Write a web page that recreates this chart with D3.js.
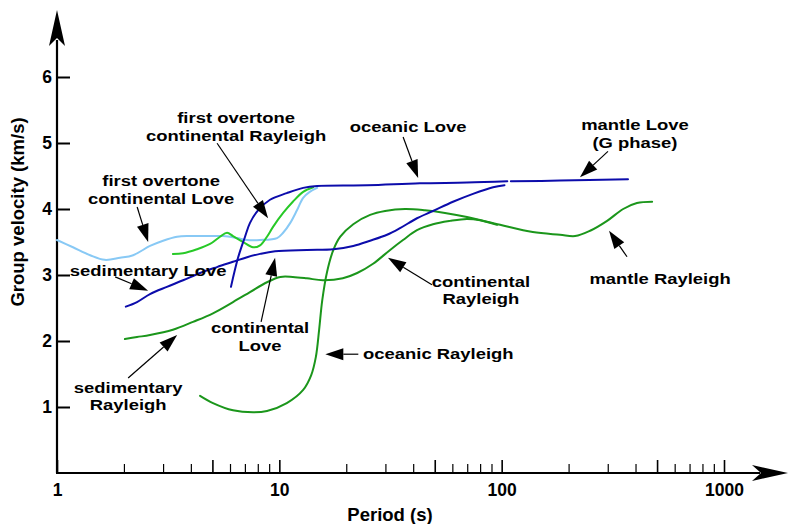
<!DOCTYPE html>
<html>
<head>
<meta charset="utf-8">
<script src="https://cdn.jsdelivr.net/npm/d3@7"></script>
<style>
  html, body { margin: 0; padding: 0; background: #fff; }
  svg { display: block; }
  text { font-family: "Liberation Sans", Arial, Helvetica, sans-serif; font-weight: bold; fill: #000; }
</style>
</head>
<body>
<svg id="chart" width="789" height="524"></svg>
<script>
// ---- Dispersion curves: period (s) and group velocity (km/s) ----
const overtoneLovePeriod = [1.0, 1.18, 1.41, 1.64, 1.92, 2.20, 2.62, 3.00, 3.47, 3.97, 4.73, 5.58, 6.45, 7.16, 8.19, 9.77, 10.4, 11.2, 12.0, 12.8, 13.7, 14.8];
const overtoneLoveVel    = [3.53, 3.42, 3.30, 3.23, 3.26, 3.30, 3.44, 3.52, 3.58, 3.59, 3.59, 3.59, 3.56, 3.53, 3.53, 3.56, 3.64, 3.79, 3.98, 4.17, 4.26, 4.32];

const overtoneRayleighPeriod = [3.32, 3.69, 4.26, 4.88, 5.41, 5.82, 6.19, 6.87, 7.62, 8.19, 8.80, 9.37, 10.4, 11.5, 12.8, 14.2];
const overtoneRayleighVel    = [3.32, 3.33, 3.39, 3.47, 3.58, 3.64, 3.59, 3.50, 3.42, 3.45, 3.58, 3.73, 3.94, 4.11, 4.26, 4.33];

const oceanicLovePeriod = [6.06, 6.52, 7.01, 7.38, 8.02, 9.08, 10.8, 12.8, 14.8, 24.8, 42.9, 69.8, 106];
const oceanicLoveVel    = [2.82, 3.26, 3.58, 3.79, 3.98, 4.14, 4.24, 4.32, 4.35, 4.36, 4.39, 4.40, 4.42];

const mantleLovePeriod = [110, 183, 370];
const mantleLoveVel    = [4.42, 4.43, 4.45];

const continentalLovePeriod = [2.04, 2.29, 2.62, 3.12, 3.69, 4.40, 5.24, 6.19, 7.16, 8.19, 9.57, 13.3, 17.5, 21.5, 25.6, 30.5, 34.9, 41.6, 49.1, 60.4, 74.3, 91.5, 103];
const continentalLoveVel    = [2.52, 2.59, 2.71, 2.82, 2.92, 3.03, 3.12, 3.20, 3.27, 3.32, 3.36, 3.38, 3.39, 3.44, 3.52, 3.61, 3.71, 3.86, 3.97, 4.11, 4.23, 4.33, 4.36];

const continentalRayleighPeriod = [2.02, 2.29, 2.62, 3.32, 4.09, 5.03, 6.19, 7.38, 8.80, 10.1, 11.5, 13.3, 15.7, 19.3, 22.4, 26.4, 31.5, 36.0, 41.6, 49.1, 58.6, 69.8, 80.0, 95.3];
const continentalRayleighVel    = [2.03, 2.06, 2.09, 2.17, 2.29, 2.42, 2.59, 2.74, 2.89, 2.97, 2.97, 2.95, 2.92, 2.95, 3.03, 3.17, 3.38, 3.53, 3.68, 3.77, 3.82, 3.85, 3.83, 3.76];

const oceanicRayleighPeriod = [4.40, 5.03, 6.19, 7.62, 8.80, 10.8, 12.8, 13.9, 14.6, 15.1, 15.6, 16.4, 17.5, 18.8, 21.5, 25.6, 29.9, 36.8, 45.2, 55.6, 69.8, 98.4, 138, 183, 214, 250, 298, 352, 406, 475];
const oceanicRayleighVel    = [1.17, 1.06, 0.95, 0.92, 0.94, 1.06, 1.26, 1.48, 1.76, 2.17, 2.62, 3.05, 3.38, 3.58, 3.77, 3.91, 3.97, 4.00, 3.98, 3.94, 3.88, 3.76, 3.65, 3.61, 3.59, 3.67, 3.82, 4.00, 4.09, 4.11];

// ---- Axis ticks ----
const periodTicksLong  = [1, 5, 10, 50, 100, 500, 1000];
const periodTicksShort = [2, 3, 4, 6, 7, 8, 9, 20, 30, 40, 60, 70, 80, 90, 200, 300, 400, 600, 700, 800, 900];
const periodLabels     = [1, 10, 100, 1000];
const velocityTicks    = [1, 2, 3, 4, 5, 6];

// ---- Callouts: text and the point (period, velocity) each arrow points at ----
const calloutText = [
  ["first overtone", "continental Rayleigh"],
  ["first overtone", "continental Love"],
  ["sedimentary Love"],
  ["sedimentary", "Rayleigh"],
  ["continental", "Love"],
  ["oceanic Rayleigh"],
  ["oceanic Love"],
  ["mantle Love", "(G phase)"],
  ["continental", "Rayleigh"],
  ["mantle Rayleigh"]
];
const calloutPeriod = [8.9, 2.57, 2.57, 3.47, 9.57, 16.1, 42.1, 225, 30.8, 304];
const calloutVel    = [3.86, 3.50, 2.76, 2.09, 3.26, 1.80, 4.47, 4.48, 3.26, 3.67];

// ---- Layout ----
const svg = d3.select("#chart");
const x = d3.scaleLog().domain([1, 1000]).range([57, 724]);
const y = d3.scaleLinear().domain([0, 6]).range([473, 77]);

const colors = {
  blue: "#0c0cab",
  green: "#1b961b",
  brightGreen: "#27c927",
  lightBlue: "#88c9f5"
};

// tail offset from arrow tip, label offset from arrow tip (px), line spacing
const calloutLayout = [
  { tail: [-51, -75], label: [-32, -95], lead: 17.5 },
  { tail: [-11, -35], label: [13, -56], lead: 17.5 },
  { tail: [-33, -14], label: [0, -15], lead: 17.5 },
  { tail: [-49, 43], label: [-49, 57.5], lead: 17.5 },
  { tail: [-14, 64], label: [-15, 75.5], lead: 17.5 },
  { tail: [33, 0], label: [113, 5], lead: 17.5 },
  { tail: [-15, -41], label: [-10, -46], lead: 17.5 },
  { tail: [28, -26], label: [55, -47], lead: 17.5 },
  { tail: [44, 27], label: [93, 29], lead: 17.5 },
  { tail: [18, 26], label: [51, 53], lead: 17.5 }
];

function stretchedText(g, str, cx, cy, size, sx) {
  return g.append("text")
    .attr("transform", `translate(${cx},${cy}) scale(${sx},1)`)
    .attr("text-anchor", "middle")
    .style("font-size", size + "px")
    .text(str);
}

// ---- Axes ----
const axes = svg.append("g");

const yAxis = d3.axisLeft(y).tickValues(velocityTicks).tickSize(-13).tickPadding(5).tickFormat(d3.format("d"));
const yg = axes.append("g").attr("transform", `translate(${x(1)},0)`).call(yAxis);
yg.select(".domain").remove();
yg.selectAll(".tick line").attr("stroke", "#000").attr("stroke-width", 2);
yg.selectAll(".tick text").style("font-size", "17.5px").attr("font-family", null);

const xAxisLong = d3.axisBottom(x).tickValues(periodTicksLong).tickSize(-13).tickPadding(11)
  .tickFormat(d => periodLabels.includes(d) ? d3.format("d")(d) : "");
const xg1 = axes.append("g").attr("transform", `translate(0,${y(0)})`).call(xAxisLong);
xg1.select(".domain").remove();
xg1.selectAll(".tick line").attr("stroke", "#000").attr("stroke-width", 1.6);
xg1.selectAll(".tick text").style("font-size", "17.5px").attr("font-family", null);

const xAxisShort = d3.axisBottom(x).tickValues(periodTicksShort).tickSize(-9).tickFormat("");
const xg2 = axes.append("g").attr("transform", `translate(0,${y(0)})`).call(xAxisShort);
xg2.select(".domain").remove();
xg2.selectAll(".tick line").attr("stroke", "#000").attr("stroke-width", 1.2);

// axis lines with arrowheads
const x0 = x(1), y0 = y(0);
axes.append("line").attr("x1", x0).attr("y1", y0).attr("x2", x0).attr("y2", 40)
  .attr("stroke", "#000").attr("stroke-width", 2.2);
axes.append("line").attr("x1", x0 - 1).attr("y1", y0).attr("x2", 760).attr("y2", y0)
  .attr("stroke", "#000").attr("stroke-width", 2.2);
axes.append("path")
  .attr("d", `M${x0},10 L${x0 + 8},46 L${x0},38 L${x0 - 8},46 Z`)
  .attr("fill", "#000");
axes.append("path")
  .attr("d", `M788,${y0} L752,${y0 - 8} L761,${y0} L752,${y0 + 8} Z`)
  .attr("fill", "#000");

// axis titles
axes.append("text")
  .attr("transform", `translate(24,212) rotate(-90)`)
  .attr("text-anchor", "middle")
  .style("font-size", "18.5px")
  .text("Group velocity (km/s)");
axes.append("text")
  .attr("x", 390).attr("y", 521)
  .attr("text-anchor", "middle")
  .style("font-size", "18.5px")
  .text("Period (s)");

// ---- Curves ----
const line = d3.line()
  .x(d => x(d[0]))
  .y(d => y(d[1]))
  .curve(d3.curveCatmullRom.alpha(0.5));

const series = [
  { p: oceanicRayleighPeriod, v: oceanicRayleighVel, c: colors.green },
  { p: continentalRayleighPeriod, v: continentalRayleighVel, c: colors.green },
  { p: overtoneLovePeriod, v: overtoneLoveVel, c: colors.lightBlue },
  { p: overtoneRayleighPeriod, v: overtoneRayleighVel, c: colors.brightGreen },
  { p: continentalLovePeriod, v: continentalLoveVel, c: colors.blue },
  { p: oceanicLovePeriod, v: oceanicLoveVel, c: colors.blue },
  { p: mantleLovePeriod, v: mantleLoveVel, c: colors.blue }
];

svg.append("g").selectAll("path")
  .data(series)
  .join("path")
  .attr("d", s => line(d3.zip(s.p, s.v)))
  .attr("fill", "none")
  .attr("stroke", s => s.c)
  .attr("stroke-width", 2)
  .attr("stroke-linejoin", "round")
  .attr("stroke-linecap", "round");

// ---- Callouts ----
const notes = svg.append("g");
calloutText.forEach((lines, i) => {
  const tx = x(calloutPeriod[i]), ty = y(calloutVel[i]);
  const L = calloutLayout[i];
  const sx = tx + L.tail[0], sy = ty + L.tail[1];
  const ang = Math.atan2(ty - sy, tx - sx);
  const len = 18, half = 6;
  const bx = tx - len * Math.cos(ang), by = ty - len * Math.sin(ang);
  notes.append("line")
    .attr("x1", sx).attr("y1", sy).attr("x2", bx).attr("y2", by)
    .attr("stroke", "#000").attr("stroke-width", 1.2);
  notes.append("path")
    .attr("d", `M${tx},${ty} L${bx + half * Math.sin(ang)},${by - half * Math.cos(ang)} L${bx - half * Math.sin(ang)},${by + half * Math.cos(ang)} Z`)
    .attr("fill", "#000");
  lines.forEach((t, k) => {
    stretchedText(notes, t, tx + L.label[0], ty + L.label[1] + k * L.lead, 15.5, 1.19);
  });
});
</script>
</body>
</html>
